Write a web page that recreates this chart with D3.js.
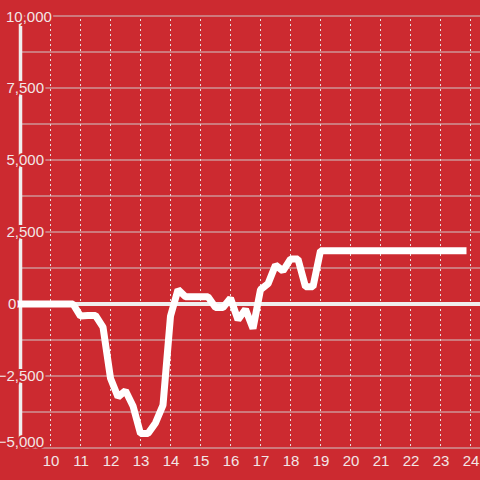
<!DOCTYPE html>
<html>
<head>
<meta charset="utf-8">
<script src="https://cdn.jsdelivr.net/npm/d3@7"></script>
<style>
  body { margin: 0; background: #cc2a30; }
  svg { display: block; }
  text { font-family: "Liberation Sans", Arial, sans-serif; }
</style>
</head>
<body>
<div id="chart"></div>
<script>
//size
const W = 480, H = 480;

//data: hour of day and value, every 15 minutes
const hours = [
  9.0, 9.25, 9.5, 9.75, 10.0, 10.25, 10.5, 10.75,
  11.0, 11.25, 11.5, 11.75, 12.0, 12.25, 12.5, 12.75,
  13.0, 13.25, 13.5, 13.75, 14.0, 14.25, 14.5, 14.75,
  15.0, 15.25, 15.5, 15.75, 16.0, 16.25, 16.5, 16.75,
  17.0, 17.25, 17.5, 17.75, 18.0, 18.25, 18.5, 18.75,
  19.0, 19.25, 19.5, 19.75, 20.0, 20.25, 20.5, 20.75,
  21.0, 21.25, 21.5, 21.75, 22.0, 22.25, 22.5, 22.75,
  23.0, 23.25, 23.5, 23.75
];
const values = [
  0, 0, 0, 0, 0, 0, 0, 0,
  -420, -400, -400, -800, -2580, -3230, -3010, -3540,
  -4500, -4500, -4130, -3510, -420, 500, 250, 250,
  250, 250, -120, -120, 200, -550, -180, -850,
  500, 700, 1350, 1150, 1560, 1560, 600, 600,
  1850, 1850, 1850, 1850, 1850, 1850, 1850, 1850,
  1850, 1850, 1850, 1850, 1850, 1850, 1850, 1850,
  1850, 1850, 1850, 1850
];

//ticks
const xTicks = [10, 11, 12, 13, 14, 15, 16, 17, 18, 19, 20, 21, 22, 23, 24];
const yGrid = [-5000, -3750, -2500, -1250, 1250, 2500, 3750, 5000, 6250, 7500, 8750, 10000];
const yLabels = [-5000, -2500, 0, 2500, 5000, 7500, 10000];

const x = d3.scaleLinear().domain([9, 24.3]).range([20.5, 479.5]);
const y = d3.scaleLinear().domain([-5000, 10000]).range([448, 16]);

const svg = d3.select("#chart").append("svg")
  .attr("width", W)
  .attr("height", H);

svg.append("rect").attr("width", W).attr("height", H).attr("fill", "#cc2a30");

//horizontal grid
svg.append("g")
  .selectAll("line")
  .data(yGrid)
  .join("line")
  .attr("x1", x(9)).attr("x2", W)
  .attr("y1", d => y(d)).attr("y2", d => y(d))
  .attr("stroke", "#cfc8c8")
  .attr("stroke-width", 1.2);

//vertical dashed grid
svg.append("g")
  .selectAll("line")
  .data(xTicks)
  .join("line")
  .attr("x1", d => x(d)).attr("x2", d => x(d))
  .attr("y1", y(10000) + 3).attr("y2", y(-5000) - 2)
  .attr("stroke", "#e6dede")
  .attr("stroke-dasharray", "2,3")
  .attr("stroke-width", 1);

//y axis line
svg.append("line")
  .attr("x1", x(9)).attr("x2", x(9))
  .attr("y1", y(10000)).attr("y2", y(-5000))
  .attr("stroke", "#f0eeee")
  .attr("stroke-width", 3.5);

//zero line
svg.append("line")
  .attr("x1", x(9) - 4).attr("x2", W)
  .attr("y1", y(0)).attr("y2", y(0))
  .attr("stroke", "#f0eeee")
  .attr("stroke-width", 4);

//the series
const line = d3.line()
  .x((d, i) => x(hours[i]))
  .y(d => y(d));

svg.append("path")
  .datum(values)
  .attr("d", line)
  .attr("fill", "none")
  .attr("stroke", "#ffffff")
  .attr("stroke-width", 7)
  .attr("stroke-linejoin", "bevel")
  .attr("stroke-linecap", "square");

//x labels
const xAxis = d3.axisBottom(x).tickValues(xTicks).tickSize(0).tickPadding(0);
const gx = svg.append("g")
  .attr("transform", "translate(0," + (y(-5000) + 7) + ")")
  .call(xAxis);
gx.select(".domain").remove();
gx.selectAll("text")
  .attr("dy", "0.71em")
  .attr("fill", "#f2e6e6")
  .attr("font-size", 15)
  .attr("font-family", "Liberation Sans, Arial, sans-serif");

//y labels, red halo covers the lines behind them
const fmt = d3.format(",");
svg.append("g")
  .selectAll("text")
  .data(yLabels)
  .join("text")
  .attr("x", d => d === 10000 ? 6 : (d === 0 ? 8 : 44))
  .attr("y", d => d === -5000 ? y(d) - 6 : (d === 10000 ? y(d) + 1 : y(d)))
  .attr("dy", "0.35em")
  .attr("text-anchor", d => (d === 10000 || d === 0) ? "start" : "end")
  .attr("font-size", 15)
  .attr("fill", "#f2e6e6")
  .attr("stroke", "#cc2a30")
  .attr("stroke-width", 4)
  .attr("paint-order", "stroke")
  .text(d => fmt(d));
</script>
</body>
</html>
